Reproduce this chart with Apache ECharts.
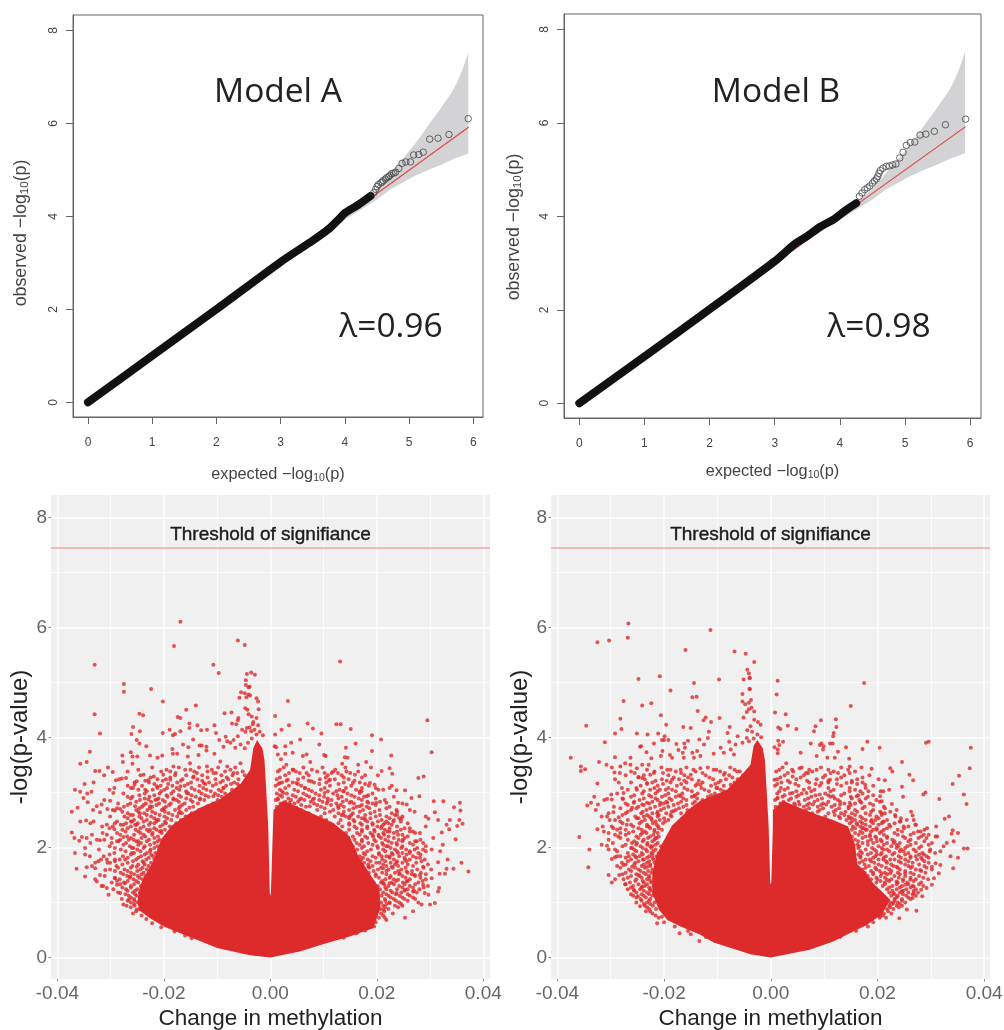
<!DOCTYPE html>
<html><head><meta charset="utf-8">
<style>html,body{margin:0;padding:0;background:#fff}#c{width:1004px;height:1030px}</style>
<script src="https://cdn.jsdelivr.net/npm/echarts@6/dist/echarts.min.js"></script>
</head><body><div id="c"></div>
<script>
// ---- QQ plots ----
const qqBandUpperX=[0,3.5,4,4.25,4.49,4.62,4.75,4.9,5.06,5.19,5.32,5.45,5.58,5.66,5.74,5.83,5.92];
const qqBandUpperY=[0,3.53,4.07,4.31,4.57,4.78,5.0,5.24,5.5,5.74,6.0,6.24,6.5,6.66,6.86,7.15,7.52];
const qqBandLowerX=[5.92,5.7,5.48,5.27,5.06,4.88,4.7,4.49,4.25,4,3.5,0];
const qqBandLowerY=[5.35,5.24,5.1,4.98,4.85,4.71,4.57,4.35,4.14,3.93,3.47,0];
const qqExpected=[0,5.93];
const qqObservedRef=[0,5.92];
const qqALineX=[0,1,2,3,3.5,3.75,3.9,4,4.2,4.4];
const qqALineY=[0,1,2,3.02,3.48,3.73,3.93,4.07,4.24,4.44];
const qqATailX=[4.45,4.48,4.5,4.52,4.56,4.58,4.6,4.63,4.65,4.68,4.7,4.73,4.76,4.79,4.84,4.89,4.95,5.02,5.07,5.15,5.22,5.32,5.45,5.62,5.92];
const qqATailY=[4.51,4.58,4.64,4.68,4.72,4.74,4.77,4.8,4.83,4.85,4.88,4.92,4.93,4.95,5.03,5.14,5.17,5.17,5.32,5.33,5.38,5.66,5.68,5.76,6.1];
const qqBLineX=[0,1,2,3,3.3,3.5,3.7,3.9,4.1,4.25];
const qqBLineY=[0,1.0,2.01,3.04,3.4,3.58,3.78,3.93,4.14,4.28];
const qqBTailX=[4.3,4.34,4.38,4.42,4.46,4.5,4.53,4.56,4.58,4.6,4.62,4.66,4.71,4.76,4.81,4.86,4.92,4.97,5.02,5.08,5.15,5.23,5.32,5.45,5.62,5.93];
const qqBTailY=[4.43,4.5,4.57,4.61,4.65,4.71,4.76,4.8,4.85,4.92,4.98,5.03,5.07,5.08,5.1,5.12,5.25,5.37,5.52,5.58,5.59,5.74,5.76,5.82,5.96,6.08];
const qqXTicks=[0,1,2,3,4,5,6];
const qqYTicks=[0,2,4,6,8];
// ---- Volcano plots ----
const volXTicks=[-0.04,-0.02,0,0.02,0.04];
const volXMinor=[-0.03,-0.01,0.01,0.03];
const volYTicks=[0,2,4,6,8];
const volYMinor=[1,3,5,7];
const threshold=7.44;
const denseA=[[0,0],[-.0038,.04],[-.01,.17],[-.0138,.32],[-.0169,.44],[-.02,.56],[-.0226,.71],[-.0245,.85],[-.025,1.0],[-.0245,1.3],[-.0235,1.5],[-.022,1.75],[-.0205,2.15],[-.0185,2.4],[-.0155,2.6],[-.0132,2.72],[-.0094,2.88],[-.0056,3.15],[-.0038,3.41],[-.0032,3.8],[-.0025,3.95],[-.0015,3.8],[-.0011,3.59],[-.00075,2.99],[-.0004,2.38],[-.0001,1.17],[0,1.12],[.0001,1.17],[.0005,2.38],[.0006,2.68],[.0024,2.85],[.0055,2.72],[.0087,2.58],[.0118,2.45],[.0149,2.2],[.0165,1.85],[.0185,1.55],[.0205,1.25],[.0207,.9],[.0193,.53],[.0149,.38],[.0105,.26],[.0055,.11]];
const denseB=[[0,0],[-.0038,.06],[-.0107,.27],[-.0132,.41],[-.0169,.56],[-.0194,.68],[-.021,.87],[-.0222,1.17],[-.0222,1.53],[-.0215,1.84],[-.0203,2.08],[-.0185,2.4],[-.015,2.72],[-.0132,2.85],[-.0107,2.95],[-.0082,3.05],[-.0056,3.3],[-.0038,3.5],[-.0032,3.85],[-.0025,3.95],[-.0015,3.8],[-.0011,3.59],[-.00075,2.99],[-.0004,2.38],[-.0001,1.37],[0,1.32],[.0001,1.37],[.0004,2.38],[.0004,2.68],[.0023,2.85],[.0054,2.72],[.0086,2.6],[.0117,2.5],[.0145,2.38],[.0158,2.05],[.0162,1.7],[.0178,1.55],[.0192,1.35],[.0211,1.17],[.0224,1.05],[.0208,.78],[.018,.59],[.0148,.44],[.0117,.29],[.0073,.14]];
const dotsATopLeft=[[-.0169,6.1],[-.0181,5.66],[-.0061,5.76],[-.0048,5.68],[-.033,5.32],[-.0107,5.32],[-.0097,5.17],[-.0044,5.15],[-.0046,5.04],[-.0046,4.95],[-.0041,4.91],[-.0275,4.97],[-.0275,4.83],[-.0224,4.88],[-.0202,4.65],[-.0055,4.82],[-.0048,4.8],[-.0058,4.72],[-.0045,4.73],[-.0041,4.78],[-.014,4.58],[-.0158,4.5],[-.033,4.42],[-.0246,4.43],[-.0239,4.4],[-.0174,4.37],[-.0169,4.35],[-.0086,4.44],[-.0073,4.45],[-.0047,4.53],[-.0043,4.5],[-.0041,4.42],[-.006,4.35],[-.0061,4.31],[-.0072,4.25],[-.0064,4.24],[-.0258,4.19],[-.0152,4.25],[-.0152,4.17],[-.0137,4.22],[-.0105,4.22],[-.013,4.13],[-.0119,4.14],[-.0102,4.08],[-.0189,4.14],[-.0169,4.11],[-.0245,4.11],[-.032,4.07],[-.0261,4.06],[-.0202,4.08],[-.0183,4.04],[-.0179,4.06],[-.0053,4.14],[-.0044,4.17],[-.0047,4.1],[-.0096,3.95],[-.0084,4.01],[-.0081,3.93],[-.0069,3.95],[-.0061,4.02],[-.0145,3.96],[-.0251,3.95],[-.0246,3.89],[-.0233,3.84],[-.0339,3.74],[-.0262,3.73],[-.0278,3.67],[-.0259,3.65],[-.025,3.65],[-.0164,3.87],[-.0154,3.82],[-.0184,3.79],[-.0133,3.85],[-.0129,3.85],[-.012,3.83],[-.012,3.76],[-.0088,3.83],[-.0075,3.9],[-.0066,3.81],[-.0056,3.87],[-.0203,3.67],[-.0183,3.7],[-.0175,3.7],[-.0226,3.67],[-.0212,3.63],[-.0035,3.98],[-.0042,3.9],[-.0048,3.8],[-.0105,3.7],[-.0135,3.68],[-.0155,3.65]];
const dotsATopRight=[[.0131,5.38],[-.0036,5.18],[-.0029,5.14],[-.0039,4.92],[.0033,4.66],[-.0038,4.76],[-.0026,4.71],[-.0023,4.65],[-.0022,4.51],[.0009,4.39],[-.0035,4.38],[-.0026,4.35],[.0295,4.31],[.0303,3.73],[.007,4.25],[.008,4.16],[.0096,4.07],[.0035,4.22],[.0021,4.14],[.0009,4.05],[.0124,4.24],[.0132,4.24],[.0151,4.15],[.0191,4.04],[.0208,3.96],[.0056,3.96],[.0039,3.9],[.0028,3.84],[.0008,3.84],[.0011,3.82],[.0092,3.87],[.016,3.89],[.0142,3.81],[.0042,3.72],[.0028,3.7],[.0014,3.69],[.0068,3.69],[.0061,3.66],[.0101,3.68],[.0104,3.66],[.0191,3.75],[.0227,3.67],[.014,3.64],[.0145,3.63],[-.0033,4.24],[-.0023,4.22],[-.003,4.14],[-.0036,4.11],[-.0026,4.05],[-.0039,4.18],[-.0014,4.04],[-.0032,4.28],[-.002,4.1]];
const dotsALowerLeft=[[-.0373,2.65],[-.0362,2.72],[-.0367,3.05],[-.0357,3.01],[-.0349,3.15],[-.0351,2.9],[-.0343,2.82],[-.0336,3.01],[-.0329,3.39],[-.0321,3.39],[-.0357,3.52],[-.0345,3.55],[-.0296,3.37],[-.0277,3.55],[-.0259,3.52],[-.029,3.22],[-.0279,3.25],[-.0271,3.26],[-.0293,3.08],[-.0295,2.99],[-.0301,2.85],[-.0268,2.92],[-.0262,3.08],[-.0255,3.14],[-.0251,3.2],[-.0268,3.12],[-.0238,3.32],[-.0248,3.41],[-.0229,3.22],[-.0235,3.05],[-.0219,3.29],[-.0326,2.75],[-.0317,2.78],[-.0306,2.7],[-.032,2.64],[-.0292,2.67],[-.0282,2.7],[-.0263,2.59],[-.0254,2.75],[-.0245,2.62],[-.0357,2.47],[-.0346,2.49],[-.0332,2.47],[-.0307,2.41],[-.0316,2.38],[-.0292,2.44],[-.0281,2.41],[-.0373,2.27],[-.0368,2.17],[-.0359,2.12],[-.0354,2.19],[-.0345,2.17],[-.0326,2.14],[-.0335,2.23],[-.032,2.13],[-.0307,2.23],[-.0293,2.33],[-.0367,1.9],[-.0348,1.99],[-.0339,1.84],[-.0348,1.87],[-.0329,1.72],[-.0323,1.75],[-.0313,1.84],[-.0307,1.78],[-.0298,2.08],[-.0285,2.11],[-.0276,2.19],[-.0266,2.14],[-.0364,1.61],[-.0345,1.64],[-.0348,1.47],[-.0329,1.62],[-.032,1.5],[-.0326,1.38],[-.031,1.59],[-.0301,1.72],[-.0292,1.78],[-.0317,1.3],[-.0304,1.14],[-.0307,1.26],[-.0288,1.32],[-.0282,1.17],[-.0292,1.44],[-.0273,1.35],[-.0263,1.47],[-.0276,.96],[-.0266,1.05],[-.0251,.87],[-.0273,1.78],[-.026,1.9],[-.0251,1.65],[-.0257,1.99],[-.0248,2.11],[-.0238,2.23],[-.0251,2.41],[-.026,2.47],[-.0232,2.32],[-.0226,2.75],[-.0213,2.87],[-.0201,2.69],[-.0229,2.87],[-.0213,3.11],[-.0194,3.08],[-.0182,2.87],[-.0169,3.11],[-.0157,2.99],[-.0188,3.23],[-.0144,3.29],[-.0125,3.17],[-.0107,3.35],[-.016,3.41],[-.0132,2.87],[-.0107,2.93],[-.0088,3.08],[-.0069,3.35],[-.0119,3.47],[-.0182,3.47],[-.0151,3.53],[-.0201,3.32],[-.0081,3.47],[-.0056,3.53],[-.0094,3.56],[-.0213,2.5],[-.0225,2.45],[-.0205,2.3],[-.0172,2.62],[-.0152,2.72],[-.0118,2.75],[-.0075,2.95],[-.0062,3.15]];
const dotsALowerRight=[[.0372,1.56],[.0359,1.72],[.0344,1.61],[.0331,1.61],[.0328,1.52],[.0318,1.52],[.0333,1.78],[.0315,1.73],[.0348,2.15],[.0324,2.05],[.0319,1.93],[.0303,1.96],[.0306,2.17],[.0361,2.43],[.0351,2.39],[.0355,2.5],[.0337,2.5],[.0331,2.41],[.0336,2.33],[.0322,2.27],[.0356,2.81],[.0357,2.67],[.0345,2.73],[.0325,2.84],[.0307,2.84],[.0309,2.64],[.0292,2.56],[.0297,2.52],[.0288,3.29],[.0278,3.26],[.0224,3.44],[.0229,3.34],[.0209,3.39],[.0187,3.17],[.0196,3.14],[.0203,3.05],[.0224,3.08],[.0228,3.12],[.0253,3.04],[.0237,3.04],[.028,2.93],[.0265,2.9],[.024,2.81],[.0237,2.68],[.0234,2.59],[.0271,2.65],[.0256,2.78],[.0218,2.81],[.0199,2.81],[.0181,2.93],[.0171,3.02],[.0246,2.52],[.0231,2.47],[.0215,2.44],[.0209,2.38],[.0224,2.29],[.0203,2.23],[.0268,2.29],[.0281,2.26],[.0262,2.35],[.0287,2.08],[.0275,2.11],[.0249,2.14],[.0237,2.08],[.0221,2.02],[.0209,1.84],[.0224,1.84],[.024,1.9],[.0262,1.9],[.0281,1.81],[.0271,1.96],[.0287,1.96],[.0253,1.78],[.0237,1.72],[.0271,1.5],[.0281,1.5],[.0287,1.65],[.0256,1.56],[.0243,1.53],[.0228,1.65],[.0212,1.62],[.0199,1.72],[.0184,1.65],[.0171,1.78],[.0196,1.32],[.0212,1.35],[.0224,1.35],[.024,1.41],[.0256,1.38],[.0268,1.2],[.0253,1.23],[.0237,1.17],[.0224,.99],[.0212,.87],[.0218,.68],[.0253,.72],[.0268,.84],[.0284,.96],[.03,.96],[.0309,.99],[.029,1.17],[.0297,1.14],[.0287,1.32],[.0303,1.44],[.0317,1.26],[.0315,1.2],[.0018,3.41],[.003,3.5],[.0043,3.41],[.0055,3.35],[.0049,3.17],[.0033,3.23],[.0018,3.17],[.0077,3.2],[.0065,3.08],[.0102,3.35],[.0112,3.23],[.0127,3.35],[.0124,3.02],[.0102,2.99],[.008,2.87],[.0055,2.87],[.0024,2.99],[.0036,2.81],[.0014,2.87],[.0143,3.38],[.0159,3.32],[.0165,3.5],[.0155,3.17],[.0168,2.99],[.0137,3.02],[.0149,2.81],[.0127,2.75],[.0108,2.84],[.0074,2.75],[.0049,2.72],[.0184,2.81],[.0168,2.75],[.0149,2.56],[.0177,2.53],[.0193,2.2],[.0137,2.59],[.002,3.6],[.0075,3.55],[.0135,3.52],[.018,3.55]];
const dotsBTopLeft=[[-.0267,6.07],[-.0268,5.81],[-.0325,5.73],[-.0303,5.76],[-.0113,5.95],[-.016,5.59],[-.0068,5.56],[-.0047,5.52],[-.0044,5.23],[-.0041,5.16],[-.0039,5.08],[-.0248,5.06],[-.0208,5.11],[-.0097,5.05],[-.0051,5.05],[-.0144,4.99],[-.0039,4.88],[-.0188,4.85],[-.0053,4.79],[-.0147,4.73],[-.0139,4.74],[-.0276,4.66],[-.0053,4.65],[-.0048,4.6],[-.0041,4.63],[-.0224,4.62],[-.0241,4.58],[-.0137,4.48],[-.0041,4.51],[-.0045,4.46],[-.0051,4.36],[-.0206,4.4],[-.0282,4.34],[-.0122,4.36],[-.0126,4.31],[-.0112,4.28],[-.0096,4.35],[-.0346,4.21],[-.0196,4.23],[-.0164,4.19],[-.015,4.17],[-.028,4.15],[-.0292,4.07],[-.0077,4.19],[-.0081,4.08],[-.0116,4.1],[-.0044,4.13],[-.0251,4.07],[-.0231,4.05],[-.0211,4.07],[-.0199,4.02],[-.02,3.95],[-.0192,3.95],[-.0204,3.95],[-.0155,3.94],[-.0162,3.89],[-.0134,3.96],[-.0118,3.99],[-.0062,4.02],[-.0045,3.99],[-.0041,3.93],[-.0311,3.91],[-.0219,3.89],[-.0243,3.84],[-.0245,3.83],[-.0161,3.81],[-.0177,3.88],[-.0173,3.77],[-.0138,3.75],[-.0125,3.87],[-.0094,3.81],[-.0078,3.92],[-.0066,3.87],[-.0075,3.78],[-.0053,3.9],[-.0233,3.73],[-.0203,3.75],[-.0189,3.68],[-.0165,3.72],[-.0147,3.72],[-.0107,3.7],[-.0088,3.72],[-.0069,3.69],[-.0132,3.66],[-.0375,3.63],[-.0292,3.64],[-.0263,3.63],[-.0224,3.62],[-.0206,3.66],[-.0185,3.63],[-.0163,3.63],[-.0144,3.63]];
const dotsBTopRight=[[-.0031,5.37],[.0013,5.03],[.0175,4.99],[.0011,4.78],[-.004,5.08],[-.004,4.88],[-.0037,4.68],[-.0036,4.54],[-.0031,4.47],[.015,4.57],[.0008,4.45],[.0028,4.42],[.0122,4.33],[.0094,4.31],[-.0031,4.32],[-.0024,4.28],[-.0019,4.23],[.0123,4.19],[.0084,4.2],[.0081,4.11],[.0032,4.21],[.0014,4.18],[.0018,4.15],[.0048,4.15],[.0118,4.08],[.0117,4.02],[.0014,3.94],[.0023,3.92],[.0016,3.86],[.0007,3.82],[.0013,3.78],[.0013,3.71],[.0075,3.89],[.0095,3.89],[.0092,3.86],[.0099,3.84],[.0098,3.78],[.0111,3.89],[.0116,3.89],[.0141,3.82],[.0172,3.79],[.0181,3.92],[.0204,3.81],[.0291,3.9],[.0296,3.92],[.0375,3.81],[.0056,3.72],[.0126,3.74],[.0086,3.66],[.0106,3.63],[.012,3.63],[.0147,3.61],[-.0035,4.1],[-.0025,4.05],[-.0018,4.0],[-.0032,3.98],[-.0038,4.2]];
const dotsBLowerLeft=[[-.0359,2.19],[-.034,1.96],[-.0342,1.64],[-.0356,3.47],[-.0356,3.39],[-.0348,3.42],[-.0325,3.16],[-.0331,2.92],[-.0324,2.78],[-.0344,2.76],[-.0337,2.81],[-.0322,3.55],[-.0308,3.5],[-.0293,3.36],[-.0283,3.35],[-.0292,3.24],[-.0285,3.18],[-.0273,3.53],[-.0263,3.5],[-.0282,3.47],[-.0251,3.44],[-.0241,3.5],[-.0229,3.5],[-.0219,3.35],[-.0307,2.88],[-.0299,2.96],[-.0298,2.87],[-.0277,2.88],[-.0276,2.99],[-.0279,3.08],[-.0251,3.05],[-.0241,3.26],[-.0248,3.28],[-.0232,3.17],[-.0226,3.32],[-.0317,2.56],[-.0307,2.56],[-.0295,2.64],[-.0285,2.55],[-.0292,2.5],[-.0325,2.33],[-.0315,2.38],[-.0313,2.29],[-.0317,2.05],[-.0307,2.03],[-.0304,2.14],[-.0295,2.35],[-.0288,2.32],[-.0292,2.23],[-.0282,2.26],[-.027,2.41],[-.0251,2.53],[-.0257,2.81],[-.026,2.72],[-.0241,2.78],[-.0232,2.81],[-.0238,2.56],[-.0298,1.79],[-.0292,1.82],[-.0292,1.96],[-.0282,1.84],[-.0304,1.5],[-.0298,1.36],[-.0292,1.42],[-.0284,1.5],[-.0273,1.33],[-.0276,1.68],[-.0266,1.84],[-.0254,1.84],[-.026,1.99],[-.0251,2.08],[-.0241,2.26],[-.0232,2.38],[-.0223,2.5],[-.0213,2.62],[-.0257,1.23],[-.0249,1.11],[-.0245,.93],[-.0234,.84],[-.0241,1.29],[-.0248,1.5],[-.026,1.65],[-.0232,1.65],[-.0238,1.78],[-.0226,2.02],[-.0216,2.17],[-.0213,.62],[-.0204,.74],[-.0171,.44],[-.015,.42],[-.0134,.3],[-.0207,2.81],[-.0197,3.05],[-.0185,3.23],[-.0169,3.41],[-.015,3.32],[-.0132,3.44],[-.0107,3.41],[-.0088,3.32],[-.0063,3.38],[-.0194,3.41],[-.0132,3.14],[-.01,3.08],[-.0075,3.14],[-.0169,2.93],[-.0144,2.93],[-.0119,2.84],[-.0094,2.87],[-.0069,2.93],[-.0194,2.81],[-.0182,2.66],[-.0157,2.63]];
const dotsBLowerRight=[[.0373,3.44],[.0353,3.3],[.0341,3.15],[.0362,2.96],[.0367,2.79],[.0316,2.88],[.029,3.0],[.0286,2.96],[.026,3.32],[.0267,3.22],[.0246,3.55],[.0246,3.1],[.0224,3.44],[.0214,3.22],[.0189,3.43],[.0211,3.02],[.0205,2.93],[.0208,2.84],[.0177,3.14],[.0183,3.02],[.0227,2.79],[.0205,2.65],[.0214,2.62],[.0233,2.59],[.021,2.46],[.0243,2.47],[.0263,2.65],[.0266,2.58],[.0268,2.5],[.0271,2.41],[.0249,2.38],[.0334,2.56],[.0326,2.52],[.031,2.38],[.0341,2.31],[.0351,2.26],[.0339,2.25],[.0293,2.35],[.0281,2.29],[.0277,2.17],[.0287,2.23],[.0296,2.23],[.0309,2.2],[.0312,2.2],[.0343,2.11],[.033,2.08],[.0324,2.02],[.0362,1.98],[.0369,1.98],[.0318,1.93],[.0337,1.84],[.0351,1.81],[.0342,1.62],[.0318,1.68],[.0309,1.71],[.0302,1.65],[.0315,1.53],[.0306,1.44],[.0302,1.32],[.0292,1.26],[.0282,1.23],[.0284,1.11],[.0268,1.17],[.0266,1.08],[.0255,.87],[.0273,.85],[.0241,.71],[.023,2.08],[.0239,2.02],[.0249,1.93],[.0262,1.84],[.0274,1.78],[.0287,1.87],[.0299,1.96],[.0296,1.81],[.028,1.59],[.0265,1.65],[.0252,1.53],[.0236,1.65],[.0224,1.78],[.0211,1.96],[.0199,2.11],[.0186,2.2],[.0174,2.35],[.0161,2.44],[.0148,2.53],[.0199,1.87],[.0211,1.78],[.0186,1.78],[.0171,1.9],[.0236,1.38],[.0252,1.32],[.0262,1.41],[.0246,1.2],[.023,1.17],[.0268,1.29],[.0224,1.53],[.0208,1.53],[.0218,1.41],[.023,.99],[.0205,.75],[.0007,3.23],[.0016,3.41],[.0029,3.53],[.0041,3.29],[.0054,3.44],[.007,3.35],[.0086,3.41],[.0095,3.17],[.0111,3.23],[.0126,3.35],[.0148,3.47],[.0142,3.17],[.0161,2.93],[.0117,2.93],[.0092,2.96],[.0067,2.99],[.0041,2.99],[.0019,3.08],[.0013,2.9],[.0029,2.75],[.0054,2.78],[.0079,2.78],[.0104,2.78],[.013,2.78],[.0148,2.81],[.017,2.81],[.0189,2.5],[.018,2.32],[.0199,2.32]];
// fringe of the dense mass, read row by row: [y, x values]
const fringeA=[
[3.45,[-.0305,-.0222,-.0172,-.0134,-.0098,-.0066,.0025,.0062,.0098,.0141,.0189]],
[3.38,[-.0268,-.0205,-.0188,-.0143,-.0118,-.0085,-.0052,.0014,.0048,.0088,.0118,.0165]],
[3.31,[-.0312,-.0244,-.0179,-.0158,-.0128,-.0092,-.0071,-.0048,.0028,.0072,.0108,.0134,.0178,.0202]],
[3.24,[-.0284,-.0212,-.0196,-.0165,-.0137,-.0103,-.0079,-.006,.0012,.0052,.0093,.0121,.0147]],
[3.18,[-.0332,-.0255,-.0228,-.0175,-.0149,-.0115,-.0094,-.0068,-.0049,.0022,.0042,.0082,.0105,.0138,.0168]],
[3.12,[-.0241,-.0206,-.0184,-.0161,-.0133,-.0108,-.0083,-.0057,.001,.0035,.0058,.0112,.0152,.0185]],
[3.05,[-.0302,-.0248,-.0221,-.0199,-.0171,-.0142,-.012,-.0097,-.0072,.0018,.0045,.0072,.0095,.013,.0161,.0212]],
[2.98,[-.0344,-.0276,-.0236,-.0208,-.0186,-.0154,-.0129,-.0104,-.0085,.0012,.0031,.0062,.0085,.0118,.0145,.0192]],
[2.92,[-.0259,-.0227,-.0193,-.0168,-.014,-.0116,-.0091,-.0078,.0022,.0048,.0073,.0101,.0134,.0158,.0176,.0232]],
[2.86,[-.0312,-.0245,-.0216,-.0202,-.0176,-.015,-.0124,-.0099,.001,.0039,.0064,.0092,.0115,.0143,.0172,.0215]],
[2.8,[-.0286,-.0263,-.0234,-.0209,-.0187,-.0161,-.0136,-.0108,.0019,.0045,.0082,.0106,.0124,.0157,.0192,.0248]],
[2.74,[-.0275,-.0241,-.0222,-.0196,-.017,-.0145,-.0118,.0012,.0033,.0067,.0095,.0138,.0162,.0181,.0224]],
[2.68,[-.0333,-.0296,-.0252,-.0231,-.0204,-.0179,-.0158,-.0134,.0058,.0088,.0118,.0148,.0174,.0205,.0262]],
[2.62,[-.0268,-.0237,-.0216,-.0191,-.0166,-.0148,.0072,.0102,.0128,.0155,.0188,.0228]],
[2.56,[-.0301,-.0274,-.0246,-.0224,-.0199,-.0175,-.0159,.0095,.0121,.0142,.0165,.0198,.0218,.0248]],
[2.5,[-.0256,-.0232,-.021,-.0186,-.0168,.0105,.0132,.0156,.0178,.0209,.0232,.0315]],
[2.44,[-.0338,-.0271,-.0249,-.0218,-.0196,-.0177,.0128,.0148,.0169,.0192,.0222,.0258]],
[2.38,[-.0296,-.0262,-.0238,-.0207,-.0189,.0135,.0158,.0182,.0201,.0238,.0292]],
[2.32,[-.0278,-.0253,-.0226,-.0214,-.0198,.0126,.0148,.0172,.0195,.0215,.0245]],
[2.26,[-.0315,-.0288,-.0244,-.0221,-.0204,.0142,.0163,.0188,.0212,.0232,.0272]],
[2.2,[-.0269,-.0235,-.0211,-.0196,.0155,.0178,.0204,.0222,.0258]],
[2.14,[-.0312,-.0282,-.0257,-.0228,-.0208,.0158,.0172,.0195,.0216,.0241,.0282]],
[2.08,[-.0338,-.0271,-.0243,-.0218,-.0203,.0162,.0184,.021,.0228,.0262]],
[2.02,[-.0302,-.0264,-.0236,-.0212,.0155,.0176,.0201,.0218,.0248,.0292]],
[1.96,[-.0322,-.0281,-.025,-.0225,-.0209,.0163,.0189,.0212,.0234,.0255]],
[1.9,[-.0293,-.0256,-.0232,-.0216,.0158,.0175,.0204,.0228,.0248,.0278]],
[1.84,[-.0277,-.0243,-.022,.0168,.0192,.0218,.0242,.0268]],
[1.78,[-.0318,-.0283,-.0252,-.0233,-.0218,.0162,.0183,.021,.0232,.0262,.029]],
[1.72,[-.0306,-.0268,-.0238,-.0224,.0176,.0205,.0226,.0248,.0274]],
[1.66,[-.0335,-.0289,-.0259,-.0229,.0164,.0192,.0218,.024,.0268]],
[1.6,[-.0301,-.0274,-.0244,-.0232,.0172,.0202,.0222,.0246,.0276,.0302]],
[1.54,[-.0281,-.0262,-.0238,.0185,.021,.0234,.0258,.0283]],
[1.48,[-.0311,-.0269,-.0249,-.0235,.018,.0198,.0226,.0248,.0272]],
[1.42,[-.0329,-.0283,-.0257,-.024,.0188,.0216,.0232,.0262,.0292]],
[1.36,[-.0298,-.0275,-.0248,.0194,.0208,.0228,.0249,.0278]],
[1.3,[-.0314,-.0262,-.0243,.0202,.0222,.0242,.0262,.0296]],
[1.24,[-.0295,-.0271,-.025,.0206,.0218,.0238,.0258,.028]],
[1.18,[-.0286,-.0258,-.0245,.0212,.0229,.0246,.0275]],
[1.12,[-.0266,-.0251,.0209,.0222,.0243,.0262]],
[1.06,[-.0279,-.0256,.0215,.0232,.0252,.0272]],
[1.0,[-.0262,-.0249,.0208,.0224,.0242,.0278]],
[.94,[-.027,-.0255,.0212,.0234,.0248]],
[.88,[-.0246,.0206,.0222]],
[.8,[-.0258,.0208,.023]],
[.72,[.0204,.0215]],
[.7,[-.0233]],[.64,[.0198]],[.62,[-.0222]],[.56,[.0195]],[.55,[-.0205]],[.49,[.0178]],[.47,[-.018]],[.44,[.0162]],[.4,[-.016]],[.36,[.0138]],[.35,[-.0148]],
[3.41,[-.0195,-.015,-.011,-.0075,.0042,.0078,.0122]],
[3.35,[-.0178,-.0138,-.0102,-.0062,.0035,.0068,.0115,.015]],
[3.27,[-.0225,-.0188,-.0145,-.0118,-.0082,.0018,.0062,.0104,.0138,.0172]],
[3.21,[-.0235,-.0202,-.0168,-.0128,-.0089,.003,.0072,.011,.0158]],
[3.15,[-.0218,-.0192,-.0155,-.0122,-.0102,-.0074,.0015,.0052,.0092,.0128,.0178]],
[3.08,[-.0258,-.0212,-.0176,-.0148,-.0126,-.0088,.0028,.0065,.0102,.0142,.0172,.0198]],
[3.02,[-.0232,-.0205,-.0182,-.0158,-.0134,-.0112,-.0092,.0022,.0052,.0078,.0108,.0138,.0168]],
[2.95,[-.0246,-.0218,-.0195,-.0172,-.0148,-.0122,-.0098,.0018,.0042,.0068,.0092,.0126,.0152,.0184]],
[2.89,[-.0262,-.0236,-.021,-.0182,-.0158,-.0132,.0014,.0034,.0058,.0082,.0108,.0128,.0166,.0198]],
[2.83,[-.0252,-.0224,-.0198,-.0172,-.0146,.0028,.0052,.0076,.0098,.0136,.0152,.0182,.0206]],
[2.77,[-.0268,-.0238,-.0214,-.019,-.0166,.0038,.0058,.0088,.0114,.0132,.0172,.0198]],
[2.71,[-.0288,-.0246,-.0226,-.02,-.0172,.0102,.0128,.0156,.0186,.0218]],
[2.65,[-.0278,-.0248,-.0222,-.0198,-.017,.0112,.0138,.0168,.0196,.0238]],
[2.59,[-.0258,-.0232,-.0208,-.0184,.0134,.0152,.0178,.0206,.0238]],
[2.53,[-.0268,-.0242,-.0218,-.0194,.0148,.0172,.0188,.0224,.0242]],
[2.47,[-.0288,-.0262,-.0238,-.0214,-.0198,.0158,.0182,.0202,.0218,.0245]],
[2.41,[-.0276,-.0254,-.0228,-.0202,.0148,.0172,.0192,.0212,.0228]],
[2.35,[-.0302,-.0268,-.0244,-.0218,.0162,.0182,.0208,.0224,.0252]],
[2.29,[-.0272,-.0248,-.0228,-.0208,.0172,.0196,.022,.0238,.0262]],
[2.23,[-.0282,-.0256,-.0222,.0168,.0192,.0214,.024,.0248]],
[2.17,[-.0298,-.0262,-.0242,-.0218,.0182,.0208,.0232,.0252]],
[2.11,[-.0288,-.0252,-.0232,-.0212,.0172,.0198,.0222,.0248,.0272]],
[2.05,[-.0276,-.0248,-.0226,.0168,.0192,.0212,.0238,.0268]],
[1.99,[-.0292,-.026,-.0238,-.0218,.0172,.0202,.0226,.0246,.0276]],
[1.93,[-.0272,-.0244,-.0226,.0182,.0216,.0238,.0262,.0292]],
[1.87,[-.0302,-.0262,-.0236,-.0224,.0178,.0204,.023,.0256,.0282]],
[1.81,[-.0268,-.0248,-.0228,.0174,.0198,.0224,.0252,.0274]],
[1.75,[-.0292,-.0258,-.024,.0188,.0216,.0238,.0256,.0284]],
[1.69,[-.0278,-.0248,-.0236,.0184,.0212,.0234,.0258,.0296]],
[1.63,[-.0286,-.0262,-.024,.0186,.0208,.023,.0254,.0288]],
[1.57,[-.0292,-.0268,-.025,.0194,.0218,.024,.0266]],
[1.51,[-.0276,-.0256,-.0242,.0198,.0218,.0242,.0266,.0292]],
[1.45,[-.0292,-.0264,-.0246,.0204,.0224,.0254,.0282]],
[1.39,[-.0288,-.0268,-.0252,.021,.0236,.0258,.0286]],
[1.33,[-.0282,-.0256,.0214,.0232,.0252,.0272]],
[1.27,[-.0278,-.0262,.0216,.0248,.0268,.0288]],
[1.21,[-.0268,-.0254,.0226,.0252,.027]],
[1.15,[-.0272,-.0254,.0218,.0236,.0258]],
[1.09,[-.0262,.0226,.0248,.0268]],
[1.03,[-.0268,-.0255,.0216,.0236,.0258]],
[.97,[-.0256,.0218,.0246]],
[.91,[-.0262,.0216,.024]],
[.84,[-.0252,.0214]],[.76,[-.0242,.0212]]];
const fringeB=[
[3.45,[-.0298,-.0205,-.0158,-.0118,-.0076,.0022,.0058,.0094,.0132,.017]],
[3.38,[-.0262,-.0218,-.0178,-.0141,-.0095,-.0058,.001,.0042,.0078,.0118,.0158,.0228]],
[3.31,[-.0272,-.0238,-.0192,-.0162,-.0122,-.0078,-.0052,.0026,.0062,.0102,.0138,.0185]],
[3.24,[-.0236,-.0204,-.0172,-.0148,-.0108,-.0084,-.0062,.0012,.0048,.0086,.0124,.0162,.0202]],
[3.18,[-.0262,-.0222,-.0188,-.0158,-.0128,-.0098,-.0068,.002,.0036,.0072,.0108,.0152,.0172]],
[3.12,[-.0244,-.0212,-.0176,-.0141,-.0112,-.0088,-.0058,.0008,.0052,.0092,.0132,.0192]],
[3.05,[-.0268,-.0226,-.0208,-.0185,-.0156,-.0124,-.0094,-.0066,.0026,.0062,.0082,.0118,.0158,.0222]],
[2.98,[-.0288,-.0241,-.0216,-.0192,-.0166,-.0137,-.0105,-.0079,.0012,.0036,.0058,.0102,.0138,.0172]],
[2.92,[-.0262,-.0224,-.0204,-.0178,-.0148,-.0118,-.0088,.0022,.0048,.0076,.0112,.015,.0182,.0248]],
[2.86,[-.0312,-.0246,-.0212,-.0186,-.0158,-.0128,-.0101,.0008,.0034,.0064,.0088,.0126,.0166,.0198]],
[2.8,[-.0272,-.0228,-.0201,-.0174,-.0146,-.0114,.0018,.0044,.0072,.0098,.0138,.0158,.0186]],
[2.74,[-.0294,-.0248,-.0217,-.0192,-.0164,-.0135,.0009,.0036,.0062,.0088,.0114,.0146,.0176,.0212]],
[2.68,[-.0328,-.0262,-.0233,-.0206,-.0178,-.0156,.0066,.0092,.0122,.0158,.0192,.0236]],
[2.62,[-.0304,-.0272,-.0243,-.0222,-.0196,-.0168,.0078,.0108,.0132,.0152,.0178,.0208]],
[2.56,[-.0254,-.0228,-.0212,-.0186,.0102,.0128,.0146,.0168,.0198,.0234]],
[2.5,[-.0302,-.0268,-.0236,-.0208,-.0192,.0142,.0158,.0178,.0196,.0218,.0255]],
[2.44,[-.0278,-.0246,-.0221,-.0202,.0148,.0172,.0192,.0208,.0232]],
[2.38,[-.0298,-.0258,-.0229,-.0211,.0154,.0168,.0186,.0224,.0258]],
[2.32,[-.0272,-.0242,-.0218,-.0204,.0152,.0178,.0192,.0212,.0238,.0288]],
[2.26,[-.0304,-.0266,-.0233,-.0212,.0158,.0172,.0204,.0232,.0268]],
[2.2,[-.0286,-.0252,-.0226,-.021,.0152,.0178,.0196,.0218,.0248,.0282]],
[2.14,[-.0268,-.0238,-.0218,.0158,.0188,.0206,.0228,.0262]],
[2.08,[-.0296,-.026,-.0231,-.0212,.0152,.0172,.0192,.0218,.0242,.0272,.0302]],
[2.02,[-.0278,-.0244,-.0222,-.0206,.0148,.0166,.0202,.0226,.0256,.0282]],
[1.96,[-.0304,-.0256,-.0234,-.0216,.0155,.0178,.0194,.0218,.0244,.0268]],
[1.9,[-.0268,-.0242,-.0224,-.021,.0152,.0188,.0208,.0232,.0258,.0284,.0308]],
[1.84,[-.0288,-.0246,-.0228,-.0214,.0148,.0168,.0196,.0216,.024,.0272,.0292]],
[1.78,[-.0262,-.024,-.022,.0158,.0178,.0202,.0232,.0252,.0284]],
[1.72,[-.0279,-.0254,-.0232,-.0218,.0148,.0166,.0194,.0218,.0244,.0266,.0296]],
[1.66,[-.0288,-.0242,-.0226,.0158,.0184,.0208,.023,.0258,.0288]],
[1.6,[-.0266,-.0248,-.0222,.0148,.0172,.0198,.0222,.0242,.0272,.0302]],
[1.54,[-.0272,-.0238,-.0224,.0176,.0192,.0214,.0238,.0262,.029]],
[1.48,[-.0262,-.0246,-.0228,.0182,.0206,.0232,.0252,.0278]],
[1.42,[-.0276,-.0252,-.0232,-.0219,.0188,.02,.0226,.0248,.0272,.0295]],
[1.36,[-.0264,-.0238,-.0224,.0198,.0214,.0238,.0256,.0282]],
[1.3,[-.0258,-.0236,-.022,.021,.0228,.0246,.0266,.0286]],
[1.24,[-.0268,-.0245,-.0226,.0218,.0236,.0254,.0272]],
[1.18,[-.0252,-.0232,-.0219,.0222,.0242,.0258,.0276]],
[1.12,[-.0258,-.0238,-.0222,.0226,.0238,.0254,.0272]],
[1.06,[-.0244,-.0226,.0232,.0246,.0262]],
[1.0,[-.0252,-.0232,-.0218,.0224,.0238,.0252]],
[.94,[-.0236,-.0221,.0222,.0236,.0246]],
[.88,[-.0228,-.0215,.0218,.023]],
[.8,[-.0222,.0212,.0226]],
[.72,[-.021,.0204,.0216]],
[.64,[-.02,.0192]],[.56,[-.018,.0182]],[.48,[-.0155,.016]],[.37,[-.0122,.013]],
[3.41,[-.0232,-.0188,-.0145,-.0102,-.0068,.004,.0072,.0108,.0145]],
[3.35,[-.0255,-.0202,-.0168,-.0128,-.0086,.0032,.0066,.0112,.0148]],
[3.27,[-.0248,-.0182,-.0155,-.0115,-.0072,.0018,.0056,.0098,.0132,.0172]],
[3.21,[-.0216,-.0195,-.0162,-.0135,-.0094,.0032,.0068,.0108,.0152]],
[3.15,[-.0232,-.0202,-.0168,-.0138,-.0104,.0012,.0046,.0084,.0124,.0162]],
[3.08,[-.0252,-.0218,-.0192,-.0162,-.013,-.0102,-.0074,.0032,.0072,.0108,.0148,.0178]],
[3.02,[-.0238,-.0212,-.0178,-.0148,-.0116,-.0088,.0016,.0048,.0076,.0112,.0148,.0168,.0206]],
[2.95,[-.0256,-.0228,-.0198,-.0172,-.0142,-.0112,.0026,.0052,.0084,.0108,.0132,.0164,.0192]],
[2.89,[-.0278,-.0238,-.0216,-.019,-.0164,-.0138,.0012,.0038,.007,.0096,.012,.0152,.0178]],
[2.83,[-.0256,-.0222,-.0196,-.0168,-.0142,.0024,.0052,.0082,.0108,.013,.0168,.0204]],
[2.77,[-.0268,-.0238,-.0208,-.0182,-.0158,.0046,.0068,.0094,.012,.015,.0192]],
[2.71,[-.0282,-.0252,-.0226,-.02,-.0172,.0072,.0098,.0128,.0146,.0172,.0214]],
[2.65,[-.0268,-.024,-.0212,-.0186,.0088,.0118,.014,.0162,.0188,.0224]],
[2.59,[-.0278,-.0232,-.021,-.0188,.012,.0138,.0158,.0186,.0208]],
[2.53,[-.0248,-.0224,-.02,.013,.0152,.0172,.0202,.0244]],
[2.47,[-.0282,-.0242,-.0216,-.0198,.0152,.0168,.0188,.0212,.0242]],
[2.41,[-.0262,-.0232,-.0214,.0162,.0178,.0202,.0222,.0272]],
[2.35,[-.0282,-.0248,-.0226,-.021,.0158,.0172,.0198,.0218,.025]],
[2.29,[-.0258,-.0236,-.0218,.0168,.0188,.0208,.0246,.0276]],
[2.23,[-.0272,-.0244,-.022,.0165,.0186,.0212,.0238,.0262]],
[2.17,[-.0282,-.0248,-.023,-.0214,.0172,.0198,.0218,.0252,.0292]],
[2.11,[-.0256,-.024,-.0222,.0164,.0182,.0208,.0232,.0258,.0288]],
[2.05,[-.0272,-.0252,-.0232,-.0216,.0162,.0182,.0212,.0236,.0262,.0296]],
[1.99,[-.0262,-.024,-.0224,.0164,.019,.0208,.0236,.0252,.0278]],
[1.93,[-.0288,-.0252,-.0232,-.022,.0168,.0198,.0222,.0242,.0272,.0298]],
[1.87,[-.0258,-.024,-.0222,.0164,.0182,.0206,.0228,.0252,.0278]],
[1.81,[-.0272,-.0252,-.0232,-.0222,.0168,.0192,.0212,.0244,.0262,.0282]],
[1.75,[-.0268,-.0248,-.0228,.0172,.0188,.0216,.024,.0258,.0288]],
[1.69,[-.0272,-.0256,-.0238,-.0226,.0176,.0202,.0226,.0252,.0278]],
[1.63,[-.0282,-.0254,-.0236,.0178,.0196,.0216,.0238,.0262,.0292]],
[1.57,[-.0262,-.0244,-.023,.0188,.0204,.0226,.0252,.0282]],
[1.51,[-.0278,-.0252,-.0234,.0192,.0218,.0242,.0268]],
[1.45,[-.0268,-.0242,-.0228,.0198,.0214,.024,.0262,.0286]],
[1.39,[-.0254,-.024,-.0226,.0206,.0222,.0248,.0268]],
[1.33,[-.0272,-.0248,-.0232,.0214,.0236,.0258,.0278]],
[1.27,[-.0262,-.0242,-.0228,.0222,.0242,.0262]],
[1.21,[-.0256,-.0238,-.0226,.0228,.0248,.0268]],
[1.15,[-.0262,-.0242,-.0228,.0232,.0248,.0266]],
[1.09,[-.0252,-.0234,.0236,.0258]],
[1.03,[-.0242,-.0228,.0232,.0246]],
[.97,[-.0238,-.0226,.0228,.0242]],
[.91,[-.0232,.0224,.024]],
[.84,[-.0226,.022]],[.76,[-.0216,.021]]];

const zip=(a,b)=>a.map((v,i)=>[v,b[i]]);
const rowsToPoints=rows=>rows.flatMap(([y,xs])=>xs.map(x=>[x,y]));
const bandPolygon=zip(qqBandUpperX,qqBandUpperY).concat(zip(qqBandLowerX,qqBandLowerY));
const polygonSeries=(points,color,xi,yi,z)=>({type:'custom',xAxisIndex:xi,yAxisIndex:yi,z,silent:true,data:[0],clip:true,
  renderItem:(p,api)=>({type:'polygon',shape:{points:points.map(q=>api.coord(q))},style:{fill:color}})});

const grids=[],xAxes=[],yAxes=[],series=[];
const qqText={fontFamily:'Liberation Sans',fontSize:12,color:'#444'};
const titleRich=(size,sub)=>({a:{fontFamily:'Liberation Sans',fontSize:size,color:'#444'},s:{fontFamily:'Liberation Sans',fontSize:sub,color:'#444',padding:[8,0,0,0]}});
function qq(g,lineX,lineY,tailX,tailY){
  const i=grids.length;
  grids.push({left:g.l,top:g.t,width:g.r-g.l,height:g.b-g.t,show:true,borderColor:'#666',borderWidth:1,backgroundColor:'#fff',outerBoundsMode:'none'});
  const k=xAxes.length;
  xAxes.push({gridIndex:i,type:'value',min:g.x0,max:g.x1,
    name:'{a|expected −log}{s|10}{a|(p)}',nameLocation:'middle',nameGap:g.xGap,
    nameTextStyle:{rich:titleRich(16.3,10.5)},
    axisLine:{show:true,onZero:false,lineStyle:{color:'#666'}},axisTick:{show:true,length:7,lineStyle:{color:'#666'},customValues:qqXTicks},
    axisLabel:Object.assign({show:true,margin:g.xMargin,customValues:qqXTicks,showMinLabel:true,showMaxLabel:true},qqText),splitLine:{show:false}});
  const m=yAxes.length;
  yAxes.push({gridIndex:i,type:'value',min:g.y0,max:g.y1,
    name:'{a|observed −log}{s|10}{a|(p)}',nameLocation:'middle',nameGap:g.yGap,nameRotate:90,
    nameTextStyle:{padding:[0,g.yShift,0,0],rich:titleRich(17.8,11.5)},
    axisLine:{show:true,onZero:false,lineStyle:{color:'#666'}},axisTick:{show:true,length:7,lineStyle:{color:'#666'},customValues:qqYTicks},
    axisLabel:Object.assign({show:true,rotate:90,margin:13,customValues:qqYTicks,showMinLabel:true,showMaxLabel:true},qqText),splitLine:{show:false}});
  series.push(polygonSeries(bandPolygon,'#d3d3d5',k,m,1));
  series.push({type:'line',xAxisIndex:k,yAxisIndex:m,z:2,silent:true,symbol:'none',data:zip(qqExpected,qqObservedRef),lineStyle:{color:'#e2473f',width:1.2}});
  series.push({type:'line',xAxisIndex:k,yAxisIndex:m,z:3,silent:true,symbol:'none',clip:false,smooth:0.25,data:zip(lineX,lineY),lineStyle:{color:'#111',width:8,cap:'round',join:'round'}});
  series.push({type:'scatter',xAxisIndex:k,yAxisIndex:m,z:4,silent:true,symbol:'circle',symbolSize:6.5,data:zip(tailX,tailY),itemStyle:{color:'rgba(0,0,0,0)',borderColor:'#444',borderWidth:1}});
}
function volcano(g,dense,dots){
  const i=grids.length;
  grids.push({left:g.l,top:g.t,width:g.r-g.l,height:g.b-g.t,show:true,borderWidth:0,backgroundColor:'#f0f0f1',outerBoundsMode:'none'});
  const k=xAxes.length,m=yAxes.length;
  const tick={show:true,length:2.5,lineStyle:{color:'#888'}};
  const lab={show:true,fontFamily:'Liberation Sans',fontSize:19,color:'#666',showMinLabel:true,showMaxLabel:true};
  xAxes.push({gridIndex:i,type:'value',min:g.x0,max:g.x1,name:'Change in methylation',nameLocation:'middle',nameGap:28,
    nameTextStyle:{fontFamily:'Liberation Sans',fontSize:22.5,color:'#222'},
    axisLine:{show:false,onZero:false},axisTick:Object.assign({customValues:volXTicks},tick),
    axisLabel:Object.assign({margin:5,customValues:volXTicks,formatter:v=>v===0?'0.00':v.toFixed(2)},lab),
    splitLine:{show:true,lineStyle:{color:'#fff',width:1.5}}});
  yAxes.push({gridIndex:i,type:'value',min:g.y0,max:g.y1,name:'-log(p-value)',nameLocation:'middle',nameGap:19,nameRotate:90,
    nameTextStyle:{fontFamily:'Liberation Sans',fontSize:24,color:'#222'},
    axisLine:{show:false,onZero:false},axisTick:Object.assign({customValues:volYTicks},tick),
    axisLabel:Object.assign({margin:4,customValues:volYTicks},lab),
    splitLine:{show:true,lineStyle:{color:'#fff',width:1.5}}});
  xAxes.push({gridIndex:i,type:'value',min:g.x0,max:g.x1,axisLine:{show:false,onZero:false},axisTick:{show:false,customValues:volXMinor},axisLabel:{show:false,customValues:volXMinor},splitLine:{show:true,lineStyle:{color:'#fff',width:0.7}}});
  yAxes.push({gridIndex:i,type:'value',min:g.y0,max:g.y1,axisLine:{show:false,onZero:false},axisTick:{show:false,customValues:volYMinor},axisLabel:{show:false,customValues:volYMinor},splitLine:{show:true,lineStyle:{color:'#fff',width:0.7}}});
  series.push(polygonSeries(dense,'#dd2a2a',k,m,2));
  series.push({type:'scatter',xAxisIndex:k,yAxisIndex:m,z:3,silent:true,symbol:'circle',symbolSize:4,data:dots,itemStyle:{color:'#de2a2c'},
    markLine:{silent:true,symbol:'none',animation:false,data:[{yAxis:threshold}],lineStyle:{color:'#f4a5a2',width:1.5,type:'solid'},
      label:{show:true,position:'middle',formatter:'Threshold of signifiance',distance:4,fontFamily:'Liberation Sans',fontSize:19,color:'#1c1c1c',textBorderColor:'#1c1c1c',textBorderWidth:0.4}}});
}
qq({l:73,r:483,t:15,b:417,x0:-0.233,x1:6.15,y0:-0.316,y1:8.33,xGap:48,yGap:42,xMargin:20,yShift:34},qqALineX,qqALineY,qqATailX,qqATailY);
qq({l:564,r:981,t:14,b:418,x0:-0.235,x1:6.166,y0:-0.315,y1:8.33,xGap:44,yGap:40,xMargin:20,yShift:22},qqBLineX,qqBLineY,qqBTailX,qqBTailY);
volcano({l:51,r:490,t:495,b:979,x0:-0.0412,x1:0.04126,y0:-0.392,y1:8.405},denseA,[].concat(dotsATopLeft,dotsATopRight,dotsALowerLeft,dotsALowerRight,rowsToPoints(fringeA)));
volcano({l:551,r:990,t:495,b:979,x0:-0.0412,x1:0.0411,y0:-0.392,y1:8.405},denseB,[].concat(dotsBTopLeft,dotsBTopRight,dotsBLowerLeft,dotsBLowerRight,rowsToPoints(fringeB)));

const note=(text,x,y,size)=>({type:'text',x,y,silent:true,z:50,style:{text,fontFamily:'Open Sans',fontSize:size,fill:'#222',textAlign:'center',textVerticalAlign:'middle'}});
const chart=echarts.init(document.getElementById('c'),null,{width:1004,height:1030});
chart.setOption({animation:false,backgroundColor:'#fff',grid:grids,xAxis:xAxes,yAxis:yAxes,series,
  graphic:[note('Model A',278,92,33.5),note('λ=0.96',391,327,33.5),note('Model B',776,92,33.5),note('λ=0.98',879,327,33.5)]});
</script></body></html>
